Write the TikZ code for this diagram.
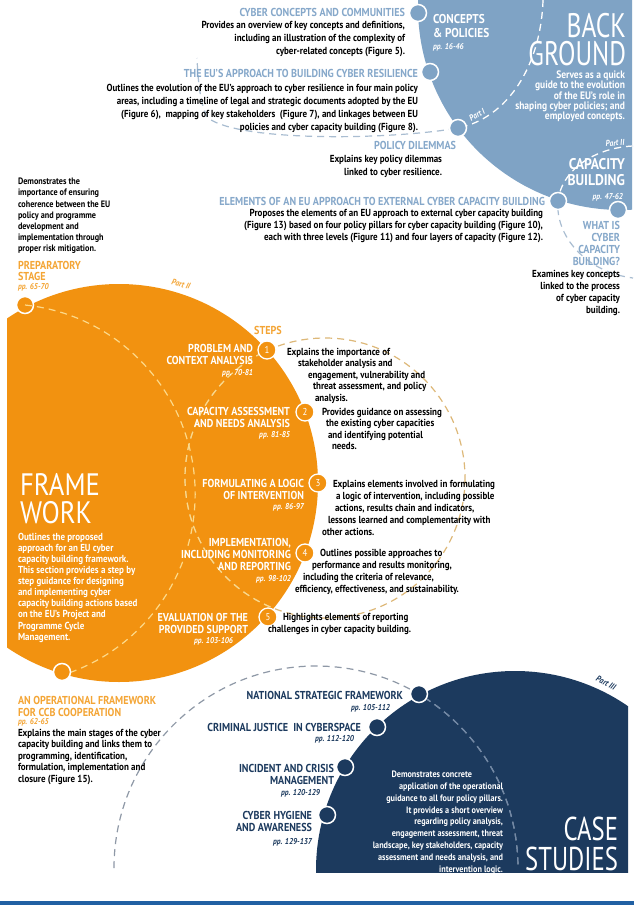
\documentclass[tikz,border=0pt]{standalone}
\usepackage{fontspec}
\setmainfont{PT Sans}[FakeStretch=0.88]
\newfontfamily\titlefont{PT Sans}[FakeStretch=0.75]
\newfontfamily\frametitlefont{PT Sans}[FakeStretch=0.86]
\newcommand\setfs[2]{\fontsize{#1}{#2}\selectfont}
\definecolor{bgblue}{HTML}{7FA3C5}
\definecolor{headblue}{HTML}{86A8CA}
\definecolor{fworange}{HTML}{F29210}
\definecolor{headorange}{HTML}{F4A535}
\definecolor{csnavy}{HTML}{1C3A5E}
\definecolor{rulecol}{HTML}{2160A3}
\definecolor{dashtan}{HTML}{DDB878}
\definecolor{dashyel}{HTML}{FCD98A}
\definecolor{dashgrey}{HTML}{8E98A6}
\definecolor{dashnavy}{HTML}{7188A6}
\definecolor{dashpale}{HTML}{A9BDD1}
\begin{document}
\begin{tikzpicture}[x=1pt,y=-1pt,
	every node/.style={inner sep=0pt,outer sep=0pt},
	body/.style={font=\setfs{10.2}{#1}\bfseries},body/.default=13,
	smallbody/.style={font=\setfs{9.3}{#1}\bfseries},
	bluehead/.style={font=\setfs{11.5}{12}\bfseries,text=headblue},
	orhead/.style={font=\setfs{11.5}{11.5}\bfseries,text=headorange},
	navhead/.style={font=\setfs{11.5}{12}\bfseries,text=csnavy},
	pages/.style={font=\setfs{8.5}{10}\bfseries\itshape},
	steplab/.style={font=\setfs{11.5}{12}\bfseries,text=white,align=right,anchor=north east},
	bluedot/.style={circle,minimum size=17pt,fill=bgblue,draw=white,line width=1.5pt},
	fwdot/.style={circle,minimum size=17pt,fill=fworange,draw=white,line width=1.5pt},
	navdot/.style={circle,minimum size=17pt,fill=csnavy,draw=white,line width=1.5pt},
	stepdot/.style={circle,minimum size=18pt,fill=fworange,draw=white,line width=1.3pt,text=white,font=\setfs{10}{10}},
	dashes/.style={dash pattern=on 7pt off 5pt,line width=1.2pt}]
		\useasboundingbox (0,0) rectangle (634,908);
		\fill[white] (0,0) rectangle (634,908);
		
		\begin{scope}
			\clip (0,0) rectangle (632,908);
			\fill[bgblue] (621,7) circle[radius=203];
		\end{scope}
		\begin{scope}
			\clip (7,0) rectangle (634,908);
			\fill[fworange] (119,483) circle[radius=199];
		\end{scope}
		\begin{scope}
			\clip (0,0) rectangle (628,872);
			\fill[csnavy] (515,870) circle[radius=199];
		\end{scope}
		\fill[rulecol] (0,901) rectangle (634,905);
		
		\coordinate (p1top) at (543,0);
		\coordinate (p1end) at (197,58);
		\coordinate (p2top) at (633,146);
		\coordinate (p2end) at (633,278);
		\coordinate (c3left) at (114,868);
		
		\draw[dashes,dashpale] (p1top) .. controls (541,65) and (508,118) .. (458,128) .. controls (390,140) and (240,142) .. (208,118) .. controls (200,105) and (198,80) .. (p1end);
		\draw[dashes,dashpale] (p2top) .. controls (592,148) and (561,172) .. (558,201) .. controls (555,235) and (585,272) .. (p2end);
		\draw[dashes,dashtan] (325,478) circle[radius=140];
		\draw[dashes,dashgrey] (c3left) arc[start angle=180,end angle=360,radius=202];
		\begin{scope}
			\clip (621,7) circle[radius=203];
			\draw[dashes,white] (p1top) .. controls (541,65) and (508,118) .. (458,128) .. controls (390,140) and (240,142) .. (208,118) .. controls (200,105) and (198,80) .. (p1end);
			\draw[dashes,white] (p2top) .. controls (592,148) and (561,172) .. (558,201) .. controls (555,235) and (585,272) .. (p2end);
		\end{scope}
		\begin{scope}
			\clip (119,483) circle[radius=199];
			\draw[dashes,dashyel] (325,478) circle[radius=140];
		\end{scope}
		\begin{scope}
			\clip (515,870) circle[radius=199];
			\draw[dashes,dashnavy] (c3left) arc[start angle=180,end angle=360,radius=202];
		\end{scope}
		
		\node[bluedot](cyc)at(418,13) {};
		\node[bluedot](euap)at(430,72) {};
		\node[bluedot](dilem)at(458,128) {};
		\node[bluedot](elem)at(558,201) {};
		\node[bluedot](whatis)at(618,210) {};
		\node[fwdot](pstage)at(25,305) {};
		\draw[dashes,dashyel](pstage) arc[start angle=-84,end angle=73,radius=190] node(arcend){};
		\node[fwdot](opfw)at(62,672) {};
		\node[navdot](n1)at(419,694) {};
		\node[navdot](n2)at(377,727) {};
		\node[navdot](n3)at(345,767) {};
		\node[navdot](n4)at(327,815) {};
		\node[stepdot](s1)at(267,350) {1};
		\node[stepdot](s2)at(305,412) {2};
		\node[stepdot](s3)at(318,483) {3};
		\node[stepdot](s4)at(305,553) {4};
		\node[stepdot](s5)at(268,617) {5};
		
		\node[bluehead,anchor=north east](cychead)at(405,8) {CYBER CONCEPTS AND COMMUNITIES};
		\node[body,anchor=north east,align=right](cycdesc)at(405,21) {Provides an overview of key concepts and definitions,\\including an illustration of the complexity of\\cyber-related concepts (Figure 5).};
		\node[bluehead,anchor=north east](euaphead)at(418,69) {THE EU'S APPROACH TO BUILDING CYBER RESILIENCE};
		\node[body,anchor=north east,align=right](euapdesc)at(418,84) {Outlines the evolution of the EU's approach to cyber resilience in four main policy\\areas, including a timeline of legal and strategic documents adopted by the EU\\(Figure 6),\ \ mapping of key stakeholders\ \ (Figure 7), and linkages between EU\\policies and cyber capacity building (Figure 8).};
		\node[bluehead,anchor=north east](dilemhead)at(456,141) {POLICY DILEMMAS};
		\node[body,anchor=north east,align=right](dilemdesc)at(442,155) {Explains key policy dilemmas\\linked to cyber resilience.};
		\node[bluehead,anchor=north east](elemhead)at(545,197) {ELEMENTS OF AN EU APPROACH TO EXTERNAL CYBER CAPACITY BUILDING};
		\node[body=12,anchor=north east,align=right](elemdesc)at(543,209) {Proposes the elements of an EU approach to external cyber capacity building\\(Figure 13) based on four policy pillars for cyber capacity building (Figure 10),\\each with three levels (Figure 11) and four layers of capacity (Figure 12).};
		\node[bluehead,anchor=north east,align=right](whathead)at(620,221) {WHAT IS\\CYBER\\CAPACITY\\BUILDING?};
		\node[body=12,anchor=north east,align=right](whatdesc)at(620,270) {Examines key concepts\\linked to the process\\of cyber capacity\\building.};
		
		\node[anchor=north west,align=left,text=white,font=\setfs{12.8}{14}\bfseries](conpol)at(433,14) {CONCEPTS\\\& POLICIES};
		\node[pages,text=white,anchor=north west](conpolpp)at(433,43) {pp. 16-46};
		\node[anchor=north east,text=white,font=\titlefont\setfs{34}{34}](bgback)at(626,13) {BACK};
		\node[anchor=north east,text=white,font=\titlefont\setfs{34}{34}](bgground)at(626,41) {GROUND};
		\node[anchor=north east,align=right,text=white,font={\setfs{10.8}{10.2}\bfseries\lineskiplimit=-8pt}](bgdesc)at(625,71) {Serves as a quick\\guide to the evolution\\of the EU's role in\\shaping cyber policies; and\\employed concepts.};
		\node[pages,text=white,rotate=32](part1)at(477,115) {Part I};
		\node[pages,text=white,rotate=5](part2)at(615,143) {Part II};
		\node[anchor=north east,align=right,text=white,font=\setfs{15.5}{16}\bfseries](cbtitle)at(625,158) {CAPACITY\\BUILDING};
		\node[pages,text=white,anchor=north east](cbpp)at(623,193) {pp. 47-62};
		
		\node[smallbody=11.2,anchor=north west,align=left](prepdesc)at(18,178) {Demonstrates the\\importance of ensuring\\coherence between the EU\\policy and programme\\development and\\implementation through\\proper risk mitigation.};
		\node[orhead,anchor=north west,align=left](prephead)at(18,261) {PREPARATORY\\STAGE};
		\node[pages,text=headorange,anchor=north west](preppp)at(18,283) {pp. 65-70};
		\node[pages,text=headorange,rotate=-15](part2b)at(181,284) {Part II};
		\node[orhead](stepshead)at(268,330) {STEPS};
		
		\node[steplab](s1lab)at(253,344) {PROBLEM AND\\CONTEXT ANALYSIS};
		\node[pages,text=white,anchor=north east](s1pp)at(253,369) {pp. 70-81};
		\node[steplab](s2lab)at(290,407) {CAPACITY ASSESSMENT\\AND NEEDS ANALYSIS};
		\node[pages,text=white,anchor=north east](s2pp)at(290,431) {pp. 81-85};
		\node[steplab](s3lab)at(304,479) {FORMULATING A LOGIC\\OF INTERVENTION};
		\node[pages,text=white,anchor=north east](s3pp)at(304,503) {pp. 86-97};
		\node[steplab](s4lab)at(291,538) {IMPLEMENTATION,\\INCLUDING MONITORING\\AND REPORTING};
		\node[pages,text=white,anchor=north east](s4pp)at(291,575) {pp. 98-102};
		\node[steplab](s5lab)at(248,613) {EVALUATION OF THE\\PROVIDED SUPPORT};
		\node[pages,text=white,anchor=north east](s5pp)at(233,637) {pp. 103-106};
		
		\node[body=11.5,anchor=north west,align=left](s1desc)at(287,348) {Explains the importance of\\\hspace*{11pt}stakeholder analysis and\\\hspace*{21pt}engagement, vulnerability and\\\hspace*{26pt}threat assessment, and policy\\\hspace*{28pt}analysis.};
		\node[body=11.5,anchor=north west,align=left](s2desc)at(322,408) {Provides guidance on assessing\\\hspace*{4pt}the existing cyber capacities\\\hspace*{6pt}and identifying potential\\\hspace*{10pt}needs.};
		\node[body=12,anchor=north west,align=left](s3desc)at(322,480) {\hspace*{11pt}Explains elements involved in formulating\\\hspace*{14pt}a logic of intervention, including possible\\\hspace*{13pt}actions, results chain and indicators,\\\hspace*{6pt}lessons learned and complementarity with\\other actions.};
		\node[body=12,anchor=north west,align=left](s4desc)at(295,549) {\hspace*{25pt}Outlines possible approaches to\\\hspace*{17pt}performance and results monitoring,\\\hspace*{8pt}including the criteria of relevance,\\efficiency, effectiveness, and sustainability.};
		\node[body=12,anchor=north west,align=left](s5desc)at(268,613) {\hspace*{15pt}Highlights elements of reporting\\challenges in cyber capacity building.};
		
		\node[anchor=north west,align=left,text=white,font=\frametitlefont\setfs{31}{28}](fwtitle)at(20,473) {FRAME\\WORK};
		\node[body=11.1,text=white,anchor=north west,align=left](fwdesc)at(18,533) {Outlines the proposed\\approach for an EU cyber\\capacity building framework.\\This section provides a step by\\step guidance for designing\\and implementing cyber\\capacity building actions based\\on the EU's Project and\\Programme Cycle\\Management.};
		
		\node[orhead,anchor=north west,align=left,font=\setfs{11.5}{12}\bfseries](ophead)at(18,696) {AN OPERATIONAL FRAMEWORK\\FOR CCB COOPERATION};
		\node[pages,text=headorange,anchor=north west](oppp)at(18,718) {pp. 62-65};
		\node[body=11.5,anchor=north west,align=left](opdesc)at(18,729) {Explains the main stages of the cyber\\capacity building and links them to\\programming, identification,\\formulation, implementation and\\closure (Figure 15).};
		
		\node[navhead,anchor=north east](n1lab)at(403,691) {NATIONAL STRATEGIC FRAMEWORK};
		\node[pages,text=csnavy,anchor=north east](n1pp)at(390,704) {pp. 105-112};
		\node[navhead,anchor=north east](n2lab)at(361,723) {CRIMINAL JUSTICE\ \ IN CYBERSPACE};
		\node[pages,text=csnavy,anchor=north east](n2pp)at(354,735) {pp. 112-120};
		\node[navhead,anchor=north east,align=right](n3lab)at(334,764) {INCIDENT AND CRISIS\\MANAGEMENT};
		\node[pages,text=csnavy,anchor=north east](n3pp)at(320,789) {pp. 120-129};
		\node[navhead,anchor=north east,align=right](n4lab)at(312,811) {CYBER HYGIENE\\AND AWARENESS};
		\node[pages,text=csnavy,anchor=north east](n4pp)at(312,838) {pp. 129-137};
		\node[smallbody=11.8,text=white,anchor=north east,align=right](csdesc)at(503,771) {Demonstrates concrete\hspace*{31pt}\\application of the operational\hspace*{13pt}\\guidance to all four policy pillars.\hspace*{10pt}\\It provides a short overview\hspace*{10pt}\\regarding policy analysis,\hspace*{10pt}\\engagement assessment, threat\hspace*{8pt}\\landscape, key stakeholders, capacity\hspace*{3pt}\\assessment and needs analysis, and\hspace*{1pt}\\intervention logic.};
		\node[pages,text=csnavy,rotate=-28](part3)at(606,683) {Part III};
		\node[anchor=north east,align=right,text=white,font=\titlefont\setfs{33}{30}](cstitle)at(618,817) {CASE\\STUDIES};
	\end{tikzpicture}
\end{document}
